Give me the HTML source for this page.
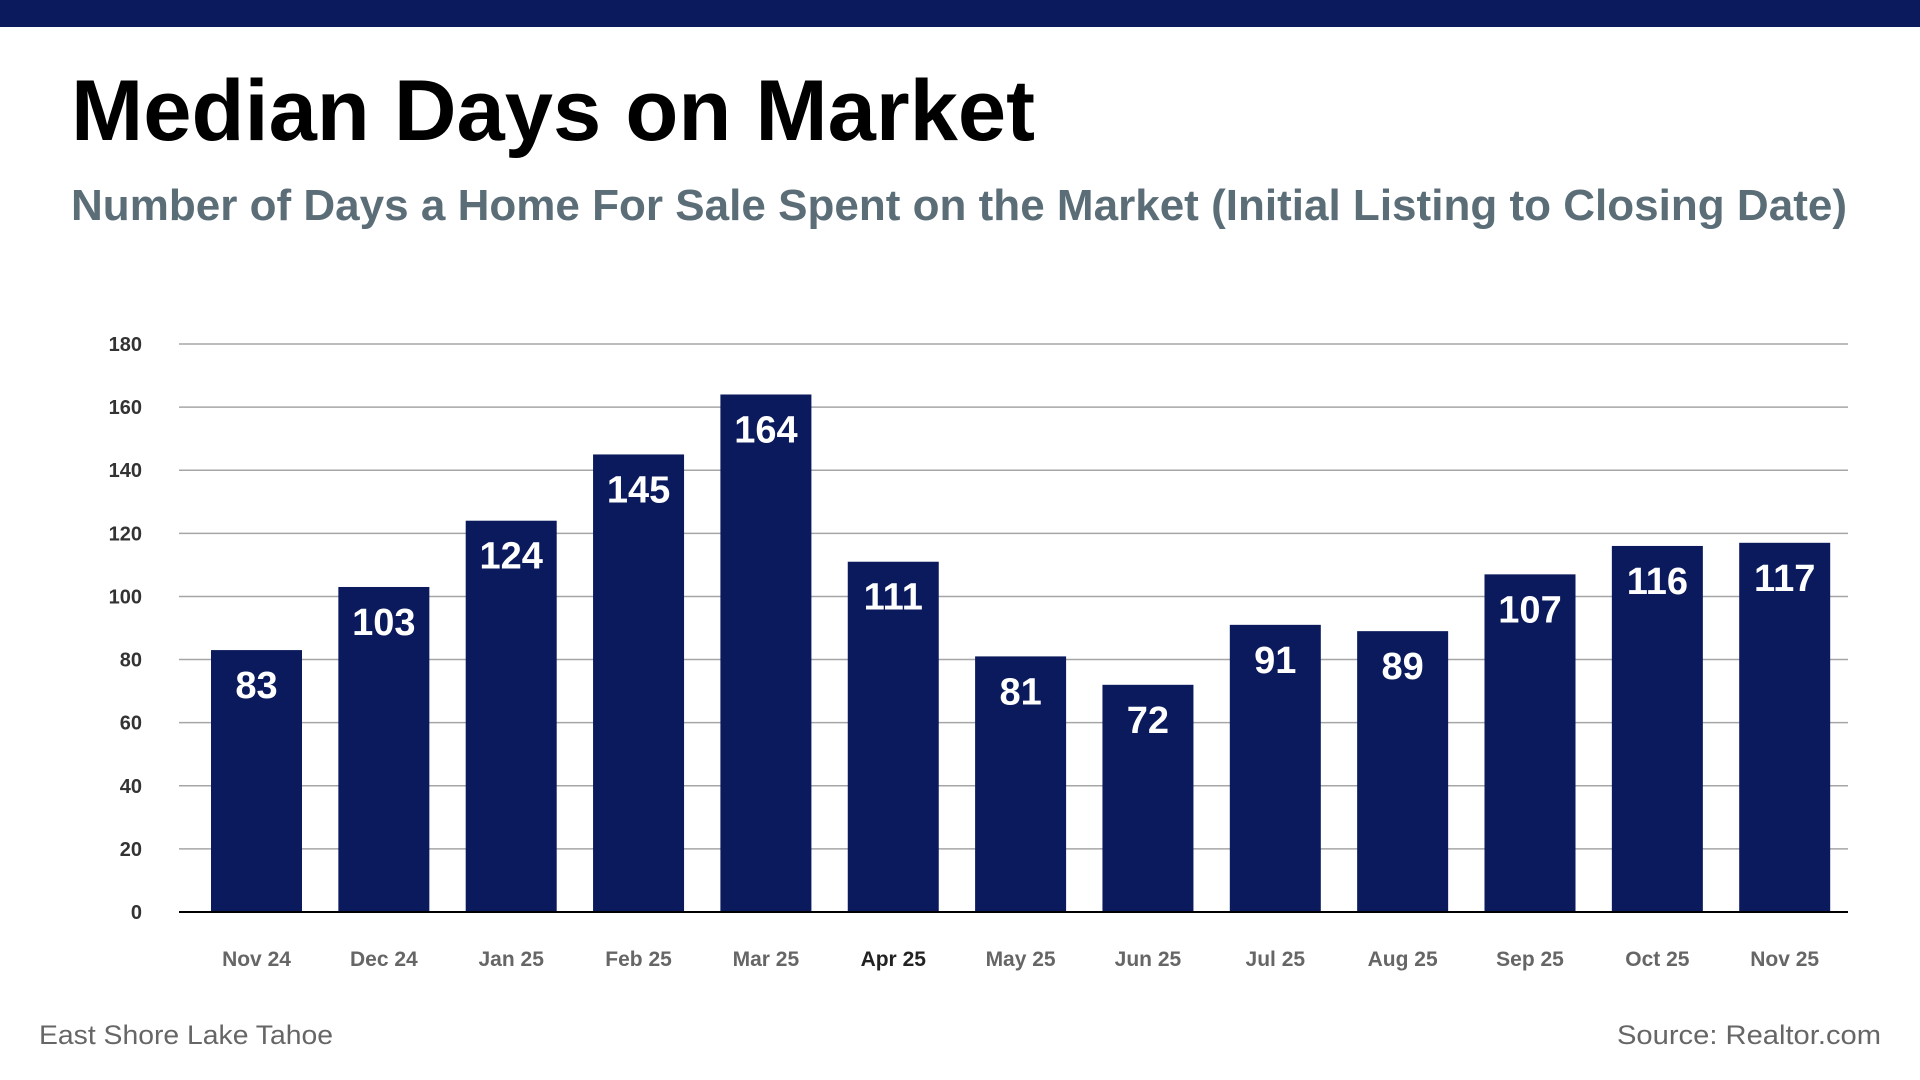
<!DOCTYPE html>
<html><head><meta charset="utf-8"><style>
html,body{margin:0;padding:0;background:#fff;}
svg{display:block;font-family:"Liberation Sans",sans-serif;}
</style></head><body>
<svg width="1920" height="1080" viewBox="0 0 1920 1080">
<rect x="0" y="0" width="1920" height="27" fill="#0a1a5c"/>
<text x="71" y="140" font-size="86" font-weight="bold" fill="#000" textLength="964" lengthAdjust="spacingAndGlyphs">Median Days on Market</text>
<text x="71" y="220" font-size="44" font-weight="bold" fill="#5b6e78" textLength="1776" lengthAdjust="spacingAndGlyphs">Number of Days a Home For Sale Spent on the Market (Initial Listing to Closing Date)</text>
<g id="grid"></g>
<g id="yticks"></g>
<g id="bars"></g>
<g id="xticks"></g>
<line x1="179" x2="1848" y1="912" y2="912" stroke="#000" stroke-width="2"/>
<text x="39" y="1044" font-size="27" fill="#666" textLength="294" lengthAdjust="spacingAndGlyphs">East Shore Lake Tahoe</text>
<text x="1617" y="1044" font-size="27" fill="#666" textLength="264" lengthAdjust="spacingAndGlyphs">Source: Realtor.com</text>
</svg>
<script>
const categories = ["Nov 24","Dec 24","Jan 25","Feb 25","Mar 25","Apr 25","May 25","Jun 25","Jul 25","Aug 25","Sep 25","Oct 25","Nov 25"];
const values = [83,103,124,145,164,111,81,72,91,89,107,116,117];
const yTicks = [0,20,40,60,80,100,120,140,160,180];

const NS = "http://www.w3.org/2000/svg";
const yMax = 180, yTop = 344, yBase = 912;
function yScale(v){ return yBase - (v / yMax) * (yBase - yTop); }
const firstCenter = 256.5, step = 127.35, barW = 91;
function xScale(i){ return firstCenter + i * step; }
function mk(tag, attrs, parent){
  const el = document.createElementNS(NS, tag);
  for (const k in attrs) el.setAttribute(k, attrs[k]);
  parent.appendChild(el);
  return el;
}
const grid = document.getElementById('grid');
const yt = document.getElementById('yticks');
yTicks.forEach(t => {
  if (t !== 0) {
    const l = mk('line', {x1:179, x2:1848, y1:yScale(t), y2:yScale(t), stroke:'#a6a6a6', 'stroke-width':1.5}, grid);
    
    
  }
  const tx = mk('text', {x:142, y:yScale(t)+7, 'font-size':20, 'font-weight':'bold', fill:'#333', 'text-anchor':'end'}, yt);
  tx.textContent = t;
  
  
});
const bars = document.getElementById('bars');
const xt = document.getElementById('xticks');
values.forEach((v, i) => {
  const cx = xScale(i), top = yScale(v);
  const r = mk('rect', {x:cx-barW/2, y:top, width:barW, height:yBase-top, fill:'#0a1a5c'}, bars);
  
  
  const lb = mk('text', {x:cx, y:top+48, 'font-size':38, 'font-weight':'bold', fill:'#fff', 'text-anchor':'middle'}, bars);
  lb.textContent = v;
  
  
  const xl = mk('text', {x:cx, y:966, 'font-size':21, 'font-weight':'bold', fill: i===5 ? '#222' : '#666', 'text-anchor':'middle'}, xt);
  xl.textContent = categories[i];
  
  
});
</script>
</body></html>
